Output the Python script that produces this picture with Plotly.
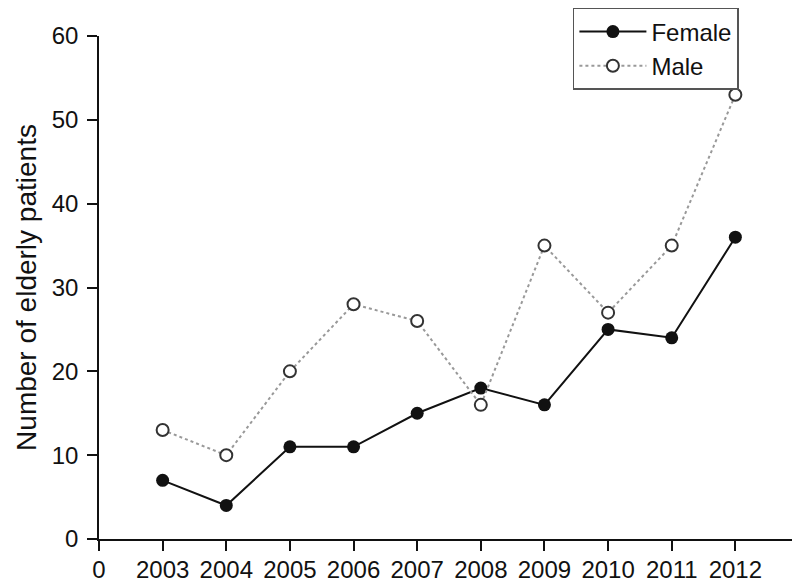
import plotly.graph_objects as go

years = ["2003", "2004", "2005", "2006", "2007", "2008", "2009", "2010", "2011", "2012"]
female = [7, 4, 11, 11, 15, 18, 16, 25, 24, 36]
male = [13, 10, 20, 28, 26, 16, 35, 27, 35, 53]

x_pos = list(range(1, len(years) + 1))
tick_vals = list(range(0, len(years) + 2))
tick_text = ["0"] + years + [""]

font = "Liberation Sans, Arial, Helvetica, sans-serif"

fig = go.Figure()
fig.add_trace(
    go.Scatter(
        x=x_pos,
        y=female,
        mode="lines+markers",
        name="Female",
        line={"color": "#111111", "width": 2},
        marker={"symbol": "circle", "size": 13, "color": "#111111"},
    )
)
fig.add_trace(
    go.Scatter(
        x=x_pos,
        y=male,
        mode="lines+markers",
        name="Male",
        line={"color": "#999999", "width": 2, "dash": "dot"},
        marker={
            "symbol": "circle",
            "size": 12,
            "color": "white",
            "line": {"color": "#333333", "width": 2},
        },
    )
)

# the page body adds an 8px offset, so the figure is sized to fill the rest
fig.update_layout(
    width=792,
    height=576,
    margin={"l": 91, "r": 1, "t": 28, "b": 45, "autoexpand": False},
    plot_bgcolor="white",
    paper_bgcolor="white",
    font={"family": font, "size": 24, "color": "#111111"},
    showlegend=True,
    legend={
        "x": 0.677,
        "y": 1.0557,
        "xanchor": "left",
        "yanchor": "top",
        "bgcolor": "white",
        "bordercolor": "#555555",
        "borderwidth": 1.5,
        "font": {"size": 24},
        "itemwidth": 67,
        "tracegroupgap": 0,
    },
)
# y title as an annotation so it can sit closer to the page edge
fig.add_annotation(
    text="Number of elderly patients",
    xref="paper",
    yref="paper",
    x=-0.128,
    y=0.501,
    xanchor="left",
    yanchor="middle",
    textangle=-90,
    showarrow=False,
    font={"size": 28},
)
fig.update_xaxes(
    range=[0, 11],
    tickvals=tick_vals,
    ticktext=tick_text,
    tickangle=0,
    ticks="outside",
    ticklen=10,
    tickwidth=1.5,
    tickcolor="#111111",
    showline=True,
    linecolor="#111111",
    linewidth=1.5,
    showgrid=False,
    zeroline=False,
    automargin=False,
    ticklabelstandoff=-2,
    tickfont={"size": 24},
)
fig.update_yaxes(
    range=[0, 60],
    tickvals=[0, 10, 20, 30, 40, 50, 60],
    ticks="outside",
    ticklen=10,
    tickwidth=1.5,
    tickcolor="#111111",
    showline=True,
    linecolor="#111111",
    linewidth=1.5,
    showgrid=False,
    zeroline=False,
    automargin=False,
    ticklabelstandoff=4,
    tickfont={"size": 24},
)

fig.write_html("out.html")
